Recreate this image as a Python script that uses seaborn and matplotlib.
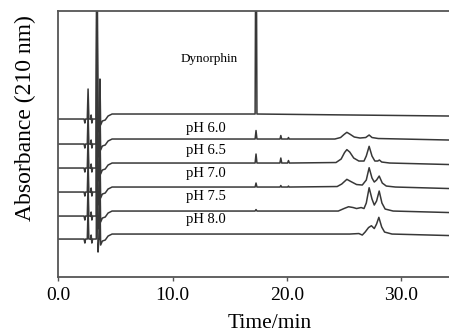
import numpy as np
import pandas as pd
import matplotlib
matplotlib.use("Agg")
import matplotlib.pyplot as plt
import seaborn as sns

# trace names (top to bottom) and their vertical offsets (arbitrary absorbance units)
trace_names = ["Dynorphin", "pH 6.0", "pH 6.5", "pH 7.0", "pH 7.5", "pH 8.0"]
trace_offsets = [158, 133, 109, 85, 61, 38]

# solvent front region, shared by all runs (time in min, signal above offset)
front_t = [0.0, 2.25, 2.32, 2.38, 2.53, 2.6, 2.67, 2.82, 2.87, 2.93, 3.0, 3.32, 3.38,
           3.42, 3.47, 3.55, 3.6, 3.64, 3.7, 3.85, 4.1, 4.35, 4.7, 5.0]
front_v = [0, 0, -4, 0, 0, 30, 0, 0, 4, -4, 0, 0, 260,
           80, -13, 0, 0, 40, -6, -2, -1, 3, 5, 5]

# rest of each chromatogram
dyn_t = [5.0, 17.22, 17.3, 17.38, 34.2]
dyn_v = [5, 5, 260, 5, 3]

ph60_t = [5.0, 17.22, 17.3, 17.38, 19.4, 19.47, 19.54, 20.08, 20.14, 20.2, 24.2, 24.7,
          25.0, 25.25, 25.5, 25.9, 26.4, 26.9, 27.2, 27.45, 28.0, 34.2]
ph60_v = [5, 5, 13.5, 5, 5, 8.5, 5, 5, 6.5, 5, 5, 6.5,
          9.5, 11.7, 10, 7, 6, 6.5, 9, 6.5, 5.5, 4]

ph65_t = [5.0, 17.22, 17.3, 17.38, 19.39, 19.47, 19.55, 20.06, 20.14, 20.22, 24.3, 24.75,
          25.05, 25.25, 25.5, 25.85, 26.3, 26.75, 26.95, 27.2, 27.45, 27.7, 27.95, 28.1,
          28.3, 29.0, 34.2]
ph65_v = [5, 5, 14, 5, 5, 10, 5, 5, 7.5, 5, 5.5, 9,
          15.5, 18.4, 16, 10, 7, 7, 12, 21.7, 12, 7, 7, 8,
          6, 5, 3.5]

ph70_t = [5.0, 17.22, 17.3, 17.38, 19.4, 19.47, 19.54, 20.08, 20.14, 20.2, 24.4, 24.8,
          25.25, 25.6, 26.1, 26.6, 26.95, 27.2, 27.45, 27.65, 27.85, 28.08, 28.35, 28.7,
          29.5, 34.2]
ph70_v = [5, 5, 9, 5, 5, 6.5, 5, 5, 6, 5, 5.5, 8,
          12.7, 10.5, 7.5, 7, 12, 24.3, 14, 10, 12, 16, 9, 6,
          5, 3.5]

ph75_t = [5.0, 17.22, 17.3, 17.38, 24.5, 25.0, 25.4, 25.8, 26.1, 26.5, 26.75, 26.95,
          27.2, 27.45, 27.65, 27.85, 28.08, 28.32, 28.6, 29.3, 34.2]
ph75_v = [5, 5, 6.5, 5, 5, 7.5, 9.3, 8.5, 7.5, 8.5, 7.5, 13,
          28.3, 17, 11, 15, 25, 13, 7, 5, 3.5]

ph80_t = [5.0, 25.5, 26.3, 26.6, 26.85, 27.15, 27.4, 27.65, 27.85, 28.05, 28.3, 28.55,
          29.2, 34.2]
ph80_v = [5, 5, 5.5, 4, 7, 11.5, 13.3, 10.5, 15, 21.7, 12, 7,
          5, 3.5]

tail_t = [dyn_t, ph60_t, ph65_t, ph70_t, ph75_t, ph80_t]
tail_v = [dyn_v, ph60_v, ph65_v, ph70_v, ph75_v, ph80_v]

rows = []
for name, off, tt, vv in zip(trace_names, trace_offsets, tail_t, tail_v):
    for t, v in zip(front_t + tt[1:], front_v + vv[1:]):
        rows.append({"trace": name, "time": t, "signal": off + v})
df = pd.DataFrame(rows)

plt.rcParams["font.family"] = ["Liberation Serif", "DejaVu Serif"]

fig = plt.figure(figsize=(4.49, 3.33), dpi=100)
ax = fig.add_axes([0.130, 0.168, 0.870, 0.799])

sns.lineplot(data=df, x="time", y="signal", units="trace", estimator=None, sort=False,
             color="#383838", lw=1.1, ax=ax)

ax.set_xlim(0, 34.19)
ax.set_ylim(0, 266)
ax.set_xticks([0, 10, 20, 30])
ax.set_xticklabels(["0.0", "10.0", "20.0", "30.0"], fontsize=14)
ax.set_yticks([])
ax.tick_params(axis="x", direction="out", length=3, width=1, color="#555555", pad=4)

ax.set_xlabel("Time/min", fontsize=15.5)
ax.xaxis.set_label_coords(0.542, -0.173)
ax.xaxis.label.set_va("center")
ax.set_ylabel("Absorbance (210 nm)", fontsize=17)
ax.yaxis.set_label_coords(-0.083, 0.598)
ax.yaxis.label.set_va("center")

for side in ["left", "top", "bottom"]:
    ax.spines[side].set_color("#555555")
    ax.spines[side].set_linewidth(1.3)
ax.spines["right"].set_visible(False)

# peak labels
ax.text(10.72, 218, "Dynorphin", fontsize=9.5, va="center", ha="left")
label_y = [149, 126.7, 104, 80.7, 57.3]
for name, y in zip(trace_names[1:], label_y):
    ax.text(11.16, y, name, fontsize=10.5, va="center", ha="left")

fig.savefig("out.png", dpi=100)
